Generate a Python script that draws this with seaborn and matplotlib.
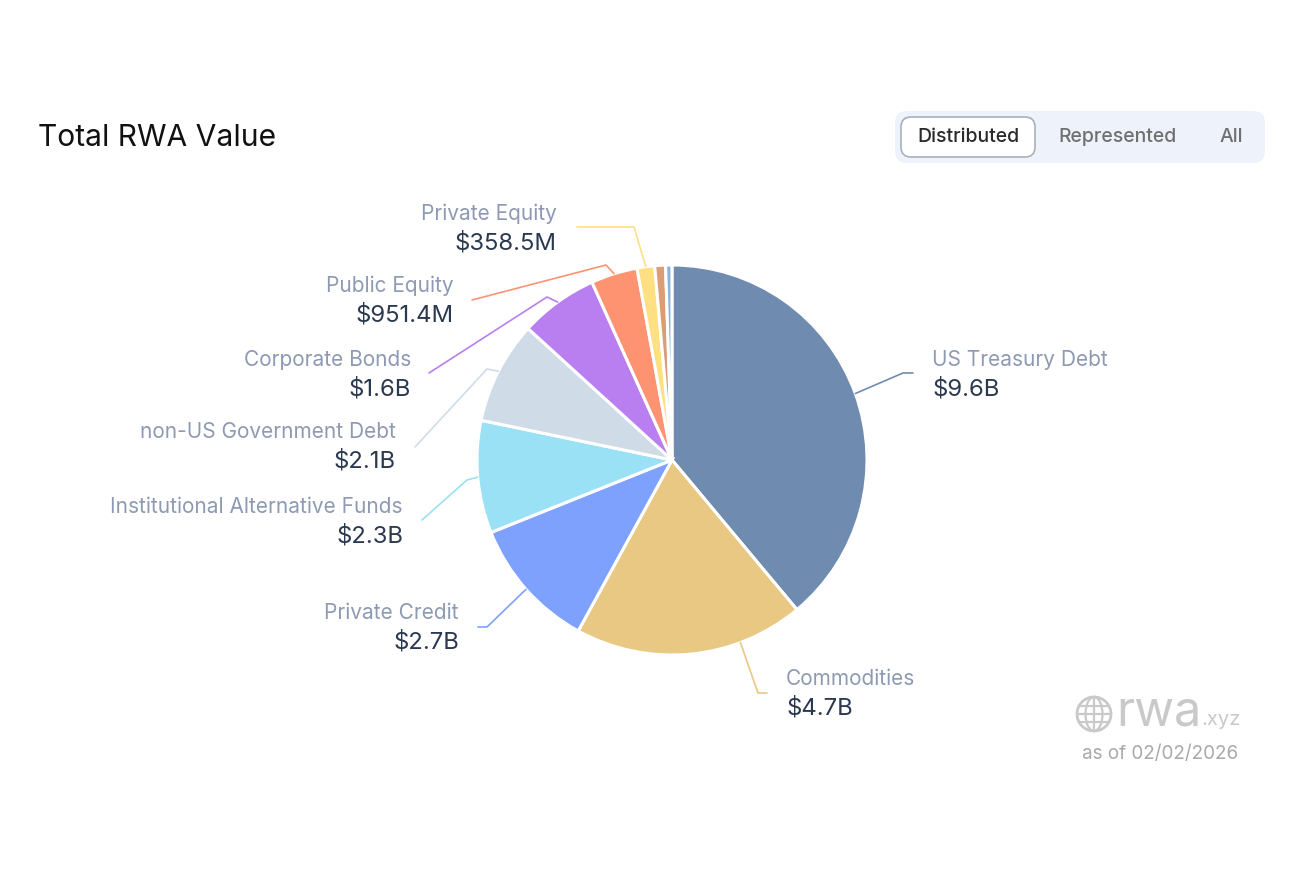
import numpy as np
import matplotlib
matplotlib.use("Agg")
import matplotlib.pyplot as plt
from matplotlib.patches import FancyBboxPatch, Circle, Ellipse
import seaborn as sns

# data (USD billions)
categories = ["US Treasury Debt", "Commodities", "Private Credit",
              "Institutional Alternative Funds", "non-US Government Debt",
              "Corporate Bonds", "Public Equity", "Private Equity",
              "Other 1", "Other 2"]
values_b = [9.6, 4.7, 2.7, 2.3, 2.1, 1.6, 0.9514, 0.3585, 0.22, 0.13]
value_text = ["$9.6B", "$4.7B", "$2.7B", "$2.3B", "$2.1B", "$1.6B",
              "$951.4M", "$358.5M", None, None]
colors = ["#6f8cb0", "#e8c882", "#7fa1fe", "#9ae1f5", "#d0dbe8",
          "#b97ff0", "#fe9372", "#fee083", "#dc9d75", "#8fb3d8"]

# label layout in pixels (x, y of name, alignment), leader line elbow + end, start angle shift
label_pos = [(932, 360, "left"), (786, 679, "left"), (459, 613, "right"),
             (403, 507, "right"), (396, 432, "right"), (411, 360, "right"),
             (454, 286, "right"), (557, 214, "right")]
leader = [[(903, 373), (913, 373)], [(758, 693), (767, 693)],
          [(487, 627), (478, 627)], [(467, 480), (422, 520)],
          [(487, 369), (415, 447)], [(547, 297), (429, 373)],
          [(606, 265), (472, 300)], [(634, 227), (577, 227)]]
angle_shift = [0, 15, 0, 0, 0, 0, 0, 0]

W, H = 1304, 869
CX, CY, R = 672, 460, 195

sns.set_theme(style="white")
plt.rcParams["font.family"] = ["Inter", "DejaVu Sans"]

fig = plt.figure(figsize=(W / 100, H / 100), dpi=100)
ax = fig.add_axes([0, 0, 1, 1])


def py(y):
    return H - y


wedges, _ = ax.pie(values_b, colors=colors, startangle=90, counterclock=False,
                   center=(CX, py(CY)), radius=R,
                   wedgeprops=dict(edgecolor="white", linewidth=2.2))

for i, (x, y, ha) in enumerate(label_pos):
    w = wedges[i]
    mid = np.deg2rad((w.theta1 + w.theta2) / 2 + angle_shift[i])
    sx = CX + R * np.cos(mid)
    sy = py(CY) + R * np.sin(mid)
    xs = [sx] + [p[0] for p in leader[i]]
    ys = [sy] + [py(p[1]) for p in leader[i]]
    ax.plot(xs, ys, color=colors[i], lw=1.2, solid_capstyle="round", zorder=1)
    ax.text(x, py(y), categories[i], ha=ha, va="center", fontsize=15,
            color="#8e9ab3")
    ax.text(x, py(y + 29), value_text[i], ha=ha, va="center", fontsize=17.2,
            color="#2b3950")

# title
ax.text(38, py(138), "Total RWA Value", ha="left", va="center", fontsize=21.6,
        color="#111111")

# toggle
ax.add_patch(FancyBboxPatch((895, py(163)), 370, 52,
                            boxstyle="round,pad=0,rounding_size=12",
                            fc="#eef2fb", ec="none"))
ax.add_patch(FancyBboxPatch((901, py(157)), 134, 40,
                            boxstyle="round,pad=0,rounding_size=10",
                            fc="white", ec="#a9b0bd", lw=1.2))
ax.text(968, py(137), "Distributed", ha="center", va="center", fontsize=14,
        color="#2a2a2a", fontweight="medium")
ax.text(1118, py(137), "Represented", ha="center", va="center", fontsize=14,
        color="#707070", fontweight="medium")
ax.text(1231, py(137), "All", ha="center", va="center", fontsize=14,
        color="#707070", fontweight="medium")

# watermark
gc = "#c9c9c9"
gx, gy, gr = 1094, py(714), 17
ax.add_patch(Circle((gx, gy), gr, fill=False, ec=gc, lw=2))
ax.add_patch(Ellipse((gx, gy), gr, 2 * gr, fill=False, ec=gc, lw=1.6))
ax.plot([gx, gx], [gy - gr, gy + gr], color=gc, lw=1.6)
for dy in (-8, 0, 8):
    half = np.sqrt(gr ** 2 - dy ** 2)
    ax.plot([gx - half, gx + half], [gy + dy, gy + dy], color=gc, lw=1.6)
ax.text(1116, py(713), "rwa", ha="left", va="center", fontsize=35, color=gc)
ax.text(1201, py(720), ".xyz", ha="left", va="center", fontsize=14.5, color=gc)
ax.text(1160, py(754), "as of 02/02/2026", ha="center", va="center",
        fontsize=13.6, color="#a9a9a9")

ax.set_xlim(0, W)
ax.set_ylim(0, H)
ax.set_aspect("equal")
ax.axis("off")

fig.savefig("out.png", dpi=100, facecolor="white")
